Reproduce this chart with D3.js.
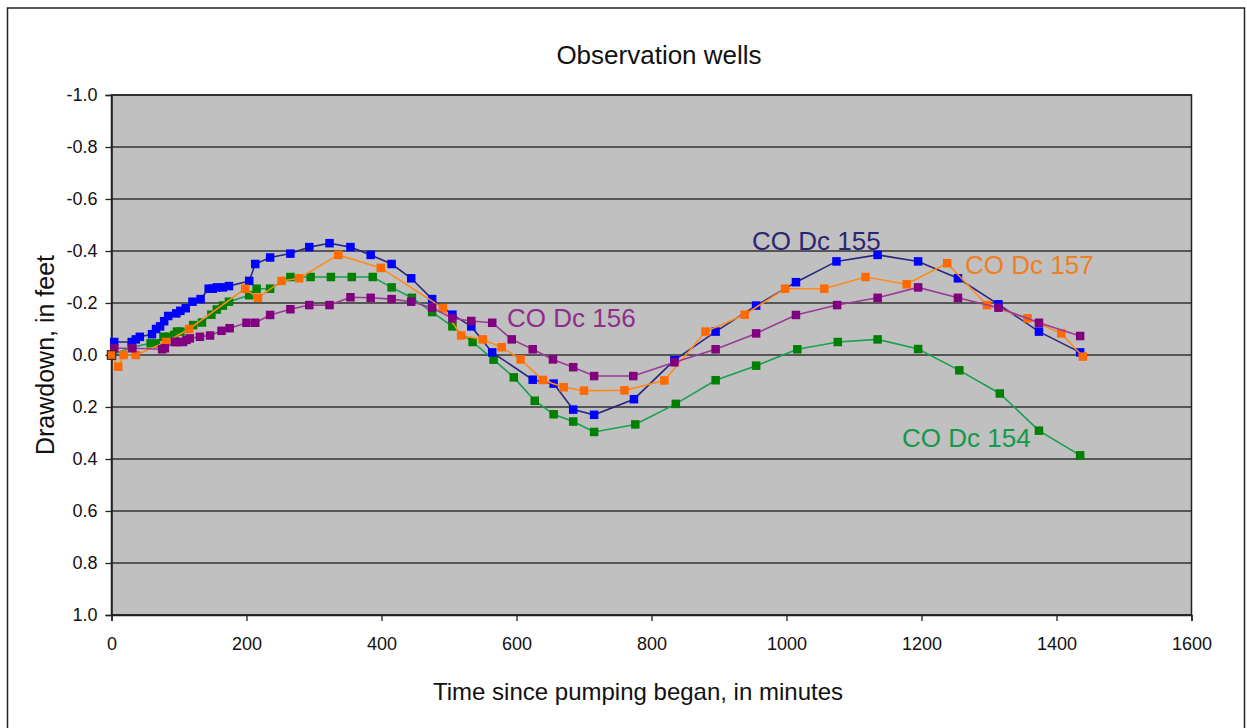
<!DOCTYPE html>
<html lang="en">
<head>
  <meta charset="UTF-8">
  <title>Observation wells</title>
  <style>
    body {
      margin: 0;
      padding: 0;
      background-color: #ffffff;
      font-family: "Liberation Sans", Arial, sans-serif;
    }
    svg text {
      font-family: "Liberation Sans", Arial, sans-serif;
    }
  </style>
  <script src="https://d3js.org/d3.v7.min.js"></script>
</head>
<body>
  <div id="chart"></div>
  <script>
    // minutes since pumping began / drawdown in feet (negative = rise)
    const t154 = [0, 30, 58, 66, 77, 85, 93, 97, 102, 121, 134, 148, 156, 165, 174, 204, 215, 235, 265, 295, 325, 356, 387, 415, 445, 475, 505, 535, 566, 596, 627, 655, 684, 715, 776, 836, 895, 955, 1016, 1076, 1135, 1195, 1256, 1316, 1374, 1435];
    const v154 = [0, -0.03, -0.045, -0.045, -0.07, -0.07, -0.077, -0.09, -0.09, -0.115, -0.125, -0.155, -0.175, -0.19, -0.205, -0.23, -0.255, -0.255, -0.30, -0.30, -0.30, -0.30, -0.30, -0.26, -0.22, -0.165, -0.11, -0.05, 0.018, 0.086, 0.176, 0.228, 0.256, 0.296, 0.267, 0.188, 0.097, 0.041, -0.022, -0.05, -0.06, -0.023, 0.059, 0.148, 0.291, 0.386];

    const t155 = [0, 4, 30, 36, 42, 60, 66, 72, 78, 84, 96, 102, 110, 120, 132, 144, 150, 156, 165, 174, 204, 213, 235, 265, 293, 323, 354, 384, 415, 444, 475, 505, 533, 564, 624, 655, 684, 715, 774, 834, 895, 955, 1014, 1074, 1135, 1195, 1254, 1314, 1374, 1435];
    const v155 = [0, -0.05, -0.05, -0.06, -0.07, -0.08, -0.10, -0.11, -0.13, -0.15, -0.16, -0.17, -0.18, -0.205, -0.215, -0.255, -0.255, -0.26, -0.26, -0.265, -0.285, -0.35, -0.375, -0.39, -0.415, -0.43, -0.415, -0.385, -0.35, -0.295, -0.215, -0.155, -0.11, -0.01, 0.095, 0.11, 0.21, 0.23, 0.17, 0.02, -0.09, -0.19, -0.28, -0.36, -0.385, -0.36, -0.295, -0.195, -0.09, -0.01];

    const t157 = [0, 10, 18, 36, 81, 115, 198, 217, 252, 278, 336, 399, 491, 518, 550, 578, 606, 639, 670, 700, 760, 819, 880, 938, 998, 1056, 1117, 1178, 1238, 1297, 1357, 1407, 1439];
    const v157 = [0, 0.045, 0, 0, -0.05, -0.10, -0.255, -0.22, -0.285, -0.295, -0.385, -0.335, -0.18, -0.075, -0.06, -0.03, 0.017, 0.096, 0.124, 0.137, 0.136, 0.098, -0.09, -0.155, -0.255, -0.255, -0.30, -0.272, -0.353, -0.192, -0.141, -0.083, 0.006];

    const t156 = [0, 4, 31, 75, 79, 94, 97, 106, 111, 116, 131, 146, 163, 175, 200, 213, 235, 265, 293, 323, 354, 384, 415, 444, 475, 505, 533, 564, 593, 624, 654, 684, 715, 773, 834, 895, 955, 1014, 1075, 1135, 1195, 1254, 1314, 1374, 1435];
    const v156 = [0, -0.026, -0.026, -0.022, -0.026, -0.05, -0.05, -0.05, -0.058, -0.064, -0.07, -0.075, -0.093, -0.103, -0.124, -0.124, -0.154, -0.176, -0.192, -0.192, -0.222, -0.22, -0.215, -0.205, -0.182, -0.141, -0.131, -0.124, -0.06, -0.022, 0.017, 0.047, 0.081, 0.081, 0.028, -0.022, -0.083, -0.154, -0.192, -0.22, -0.26, -0.22, -0.182, -0.124, -0.073];

    const xTicks = [0, 200, 400, 600, 800, 1000, 1200, 1400, 1600];
    const yTicks = [-1.0, -0.8, -0.6, -0.4, -0.2, 0.0, 0.2, 0.4, 0.6, 0.8, 1.0];

    // draw order matters for overlapping markers
    const series = [
      { name: "CO Dc 154", t: t154, v: v154, line: "#16a050", marker: "#008000", labelColor: "#12994a", label: [902, 447] },
      { name: "CO Dc 155", t: t155, v: v155, line: "#2a2680", marker: "#0000ff", labelColor: "#2b2673", label: [752, 250] },
      { name: "CO Dc 157", t: t157, v: v157, line: "#ff8a1c", marker: "#ff6a00", labelColor: "#ee7f22", label: [965, 274] },
      { name: "CO Dc 156", t: t156, v: v156, line: "#9a3a96", marker: "#800080", labelColor: "#8e2e8c", label: [507, 327] }
    ];

    const width = 1247, height = 728;
    const plot = { left: 111.5, right: 1191.5, top: 95, bottom: 615 };

    const svg = d3.select("#chart").append("svg")
      .attr("width", width)
      .attr("height", height);

    // outer frame
    svg.append("rect")
      .attr("x", 7.5).attr("y", 8)
      .attr("width", 1237).attr("height", 740)
      .attr("fill", "none")
      .attr("stroke", "#222")
      .attr("stroke-width", 1.5);

    const x = d3.scaleLinear().domain([0, 1600]).range([plot.left, plot.right]);
    const y = d3.scaleLinear().domain([-1, 1]).range([plot.top, plot.bottom]);

    svg.append("rect")
      .attr("x", plot.left).attr("y", plot.top)
      .attr("width", plot.right - plot.left)
      .attr("height", plot.bottom - plot.top)
      .attr("fill", "#c0c0c0");

    // gridlines
    svg.append("g").selectAll("line")
      .data(yTicks)
      .join("line")
      .attr("x1", plot.left).attr("x2", plot.right)
      .attr("y1", d => y(d)).attr("y2", d => y(d))
      .attr("stroke", "#333")
      .attr("stroke-width", 1.5);

    svg.append("rect")
      .attr("x", plot.left).attr("y", plot.top)
      .attr("width", plot.right - plot.left)
      .attr("height", plot.bottom - plot.top)
      .attr("fill", "none")
      .attr("stroke", "#222")
      .attr("stroke-width", 1.5);

    const fmtY = d => d3.format(".1f")(d).replace("−", "-");

    const yAxis = svg.append("g")
      .attr("transform", `translate(${plot.left},0)`)
      .call(d3.axisLeft(y).tickValues(yTicks).tickSize(6).tickPadding(8).tickFormat(fmtY));
    const xAxis = svg.append("g")
      .attr("transform", `translate(0,${plot.bottom})`)
      .call(d3.axisBottom(x).tickValues(xTicks).tickSize(6).tickPadding(16).tickFormat(d3.format("d")));

    [yAxis, xAxis].forEach(g => {
      g.select(".domain").attr("stroke", "#222").attr("stroke-width", 1.5);
      g.selectAll(".tick line").attr("stroke", "#222").attr("stroke-width", 1.3);
      g.selectAll(".tick text")
        .attr("fill", "#111")
        .style("font-size", "18px")
        .style("font-family", "'Liberation Sans', Arial, sans-serif");
    });

    // titles
    svg.append("text")
      .attr("x", 659).attr("y", 64)
      .attr("text-anchor", "middle")
      .style("font-size", "26px")
      .attr("fill", "#111")
      .text("Observation wells");

    svg.append("text")
      .attr("x", 638).attr("y", 700)
      .attr("text-anchor", "middle")
      .style("font-size", "24px")
      .attr("fill", "#111")
      .text("Time since pumping began, in minutes");

    svg.append("text")
      .attr("transform", `translate(54,355) rotate(-90)`)
      .attr("text-anchor", "middle")
      .style("font-size", "25px")
      .attr("fill", "#111")
      .text("Drawdown, in feet");

    const lineGen = d3.line().x(d => x(d[0])).y(d => y(d[1]));
    const ms = 8.5;

    series.forEach(s => {
      const pts = s.t.map((t, i) => [t, s.v[i]]);
      const g = svg.append("g");
      g.append("path")
        .datum(pts)
        .attr("d", lineGen)
        .attr("fill", "none")
        .attr("stroke", s.line)
        .attr("stroke-width", 1.6);
      g.selectAll("rect")
        .data(pts)
        .join("rect")
        .attr("x", d => x(d[0]) - ms / 2)
        .attr("y", d => y(d[1]) - ms / 2)
        .attr("width", ms).attr("height", ms)
        .attr("fill", s.marker);
    });

    // origin point carries a dark outline in the original
    svg.append("rect")
      .attr("x", x(0) - ms / 2).attr("y", y(0) - ms / 2)
      .attr("width", ms).attr("height", ms)
      .attr("fill", "#ff6a00")
      .attr("stroke", "#222")
      .attr("stroke-width", 1);

    series.forEach(s => {
      svg.append("text")
        .attr("x", s.label[0]).attr("y", s.label[1])
        .style("font-size", "26px")
        .attr("fill", s.labelColor)
        .text(s.name);
    });
  </script>
</body>
</html>
